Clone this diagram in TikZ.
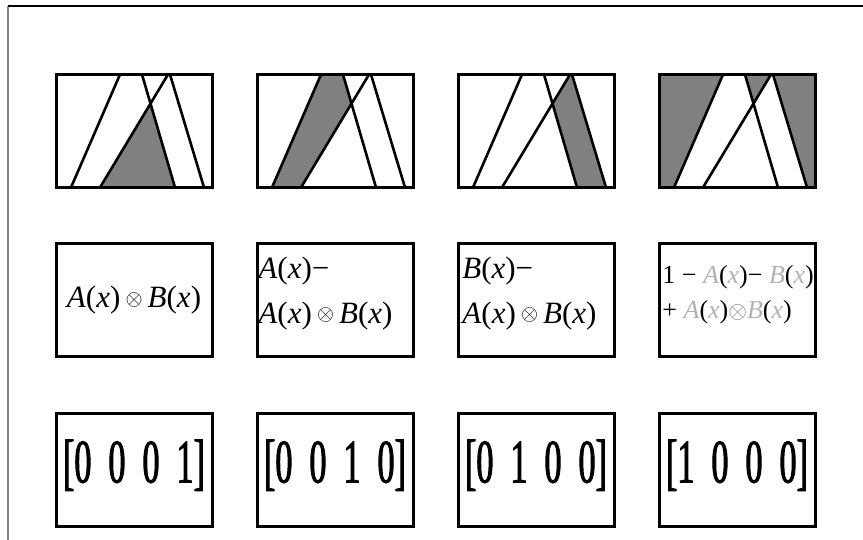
\documentclass[tikz,border=0pt]{standalone}
\usepackage{fontspec}
\setmainfont{Liberation Serif}
\newfontfamily\narrowserif[FakeStretch=0.55, FakeBold=1.5]{Liberation Serif}
\newcommand\bitfont{\narrowserif\fontsize{31}{31}\selectfont\spaceskip 8.5pt\relax}
\colorlet{faded}{black!30}
\usetikzlibrary{backgrounds}
\begin{document}
\begin{tikzpicture}[x=0.5pt, y=0.5pt, node distance=100.5pt,
    box/.style={draw, line width=1.5pt, minimum width=78pt, minimum height=56.5pt, inner sep=0pt, outer sep=0pt},
    ray/.style={line width=1.3pt},
    dark/.style={fill=black!50},
    formula/.style={font=\fontsize{15.5}{22.5}\selectfont},
    bits/.style={font=\bitfont, text depth=9pt}]
  \useasboundingbox (0,0) rectangle (863,540);
  \draw[black!50, line width=1pt] (8,0) -- (8,534);
  \draw[line width=1pt] (8,534) -- (863,534);

  % row 1: the four regions
  \node[box] (p1) at (134,409) {};
  \node[box, right of=p1] (p2) {};
  \node[box, right of=p2] (p3) {};
  \node[box, right of=p3] (p4) {};
  \begin{scope}[on background layer]
    \fill[dark, shift={(p1.south west)}] (44,0) -- (119,0) -- (94.5,83.9) -- cycle;
    \fill[dark, shift={(p2.south west)}] (15,0) -- (44,0) -- (94.5,83.9) -- (86,113) -- (64,113) -- cycle;
    \fill[dark, shift={(p3.south west)}] (119,0) -- (148,0) -- (114,113) -- (112,113) -- (94.5,83.9) -- cycle;
    \fill[dark, shift={(p4.south west)}] (0,0) -- (15,0) -- (64,113) -- (0,113) -- cycle
      (86,113) -- (112,113) -- (94.5,83.9) -- cycle
      (148,0) -- (156,0) -- (156,113) -- (114,113) -- cycle;
  \end{scope}
  \draw[ray, shift={(p1.south west)}] (15,0) -- (64,113) (44,0) -- (112,113) (86,113) -- (119,0) (114,113) -- (148,0);
  \draw[ray, shift={(p2.south west)}] (15,0) -- (64,113) (44,0) -- (112,113) (86,113) -- (119,0) (114,113) -- (148,0);
  \draw[ray, shift={(p3.south west)}] (15,0) -- (64,113) (44,0) -- (112,113) (86,113) -- (119,0) (114,113) -- (148,0);
  \draw[ray, shift={(p4.south west)}] (15,0) -- (64,113) (44,0) -- (112,113) (86,113) -- (119,0) (114,113) -- (148,0);

  % row 2: formulas
  \node[box, formula, below of=p1, node distance=84.75pt] (f1) {\textit{A}(\textit{x})\,\raisebox{1.3pt}{$\scriptstyle\otimes$}\,\textit{B}(\textit{x})};
  \node[box, right of=f1] (f2) {};
  \node[box, right of=f2] (f3) {};
  \node[box, right of=f3] (f4) {};
  \node[formula, anchor=west, align=left, inner sep=0.5pt] (t2) at ([yshift=3.5pt]f2.west)
    {\textit{A}(\textit{x})−\\\textit{A}(\textit{x})\,\raisebox{1.3pt}{$\scriptstyle\otimes$}\,\textit{B}(\textit{x})};
  \node[formula, anchor=west, align=left, inner sep=2pt] (t3) at ([yshift=3.5pt]f3.west)
    {\textit{B}(\textit{x})−\\\textit{A}(\textit{x})\,\raisebox{1.3pt}{$\scriptstyle\otimes$}\,\textit{B}(\textit{x})};
  \node[anchor=west, align=left, inner sep=1.5pt, font=\fontsize{13}{17.5}\selectfont] (t4) at ([yshift=3pt]f4.west)
    {1 − \textcolor{faded}{\textit{A}}(\textcolor{faded}{\textit{x}})− \textcolor{faded}{\textit{B}}(\textcolor{faded}{\textit{x}})\\
     + \textcolor{faded}{\textit{A}}(\textcolor{faded}{\textit{x}})\textcolor{black!50}{$\otimes$}\textcolor{faded}{\textit{B}}(\textcolor{faded}{\textit{x}})};

  % row 3: codes
  \node[box, bits, below of=f1, node distance=84.75pt] (c1) {[0 0 0 1]};
  \node[box, bits, right of=c1] (c2) {[0 0 1 0]};
  \node[box, bits, right of=c2] (c3) {[0 1 0 0]};
  \node[box, bits, right of=c3] (c4) {[1 0 0 0]};
\end{tikzpicture}
\end{document}
